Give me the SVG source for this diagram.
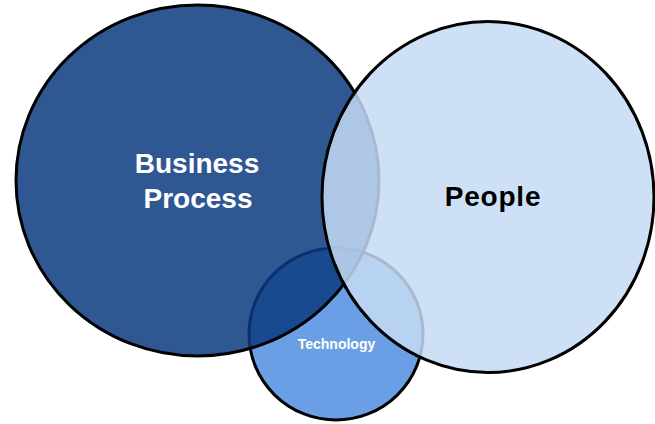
<svg xmlns="http://www.w3.org/2000/svg" width="655" height="424" viewBox="0 0 655 424">
  <style>
    .ring { stroke: #000000; stroke-width: 3; }
    .lbl { font-family: "Liberation Sans", Arial, sans-serif; font-weight: bold; text-anchor: middle; }
  </style>
  <rect width="655" height="424" fill="#ffffff"/>
  <g id="technology">
    <ellipse class="ring" cx="336" cy="334" rx="87" ry="86" fill="#6a9fe5"/>
  </g>
  <g id="business-process">
    <ellipse class="ring" cx="197.5" cy="180.5" rx="181.5" ry="175.5" fill="rgb(11,58,127)" fill-opacity="0.85"/>
    <text class="lbl" x="197" y="173" font-size="28" fill="#ffffff">Business</text>
    <text class="lbl" x="198" y="208" font-size="28" fill="#ffffff">Process</text>
  </g>
  <g id="people">
    <ellipse class="ring" cx="488" cy="197" rx="166" ry="175.5" fill="rgb(198,219,245)" fill-opacity="0.85"/>
    <text class="lbl" x="493" y="206" font-size="28" letter-spacing="0.8" fill="#000000">People</text>
  </g>
  <g id="technology-label">
    <text class="lbl" x="336.5" y="349" font-size="14" fill="#ffffff">Technology</text>
  </g>
  <g id="connectors"/>
</svg>
